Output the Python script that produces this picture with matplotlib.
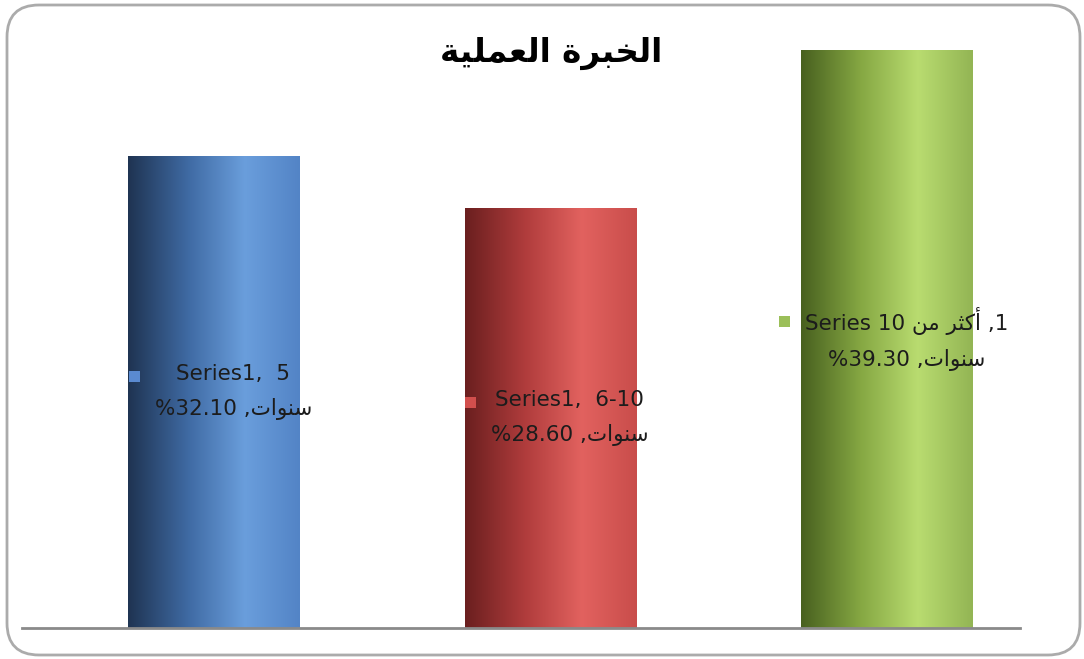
import numpy as np
import matplotlib
matplotlib.use('Agg')
import matplotlib.pyplot as plt
from matplotlib.patches import FancyBboxPatch, Rectangle
from matplotlib.colors import LinearSegmentedColormap

plt.rcParams['font.family'] = ['DejaVu Sans']

# matplotlib does no Arabic shaping, so the words are kept as
# presentation forms already in left-to-right display order
TITLE = '\ufe94\ufef4\ufee0\ufee4\ufecc\ufedf\ufe8d \ufe93\ufeae\ufe92\ufea8\ufedf\ufe8d'   # الخبرة العملية
SANAWAT = '\ufe95\ufe8d\ufeee\ufee8\ufeb3'                                               # سنوات
AKTHAR_MIN = '\ufee6\ufee3 \ufeae\ufe9c\ufedb\ufe83'                                     # أكثر من

values = [32.1, 28.6, 39.3]
first_lines = ['Series1,  5', 'Series1,  6-10', 'Series 10 ' + AKTHAR_MIN + ' ,1']
bar_colors = [
    ['#1f3452', '#3f6aa3', '#6a9edc', '#5384c6'],
    ['#6a1f1f', '#b03c3c', '#e2625f', '#c94d4b'],
    ['#48601f', '#86a843', '#b9dc70', '#93b554'],
]
key_colors = ['#5a8ad0', '#d24f4d', '#9bbf59']

W, H = 1084, 659
fig = plt.figure(figsize=(W / 100, H / 100), dpi=100)
fig.patch.set_facecolor('white')

# axes placed in pixels: baseline at y=628, plot area 22..1020
ax = fig.add_axes([22 / W, (H - 628) / H, (1020 - 22) / W, (628 - 30) / H])
x = np.arange(len(values))
bars = ax.bar(x, values, width=0.511, color='none', edgecolor='none', zorder=2)

grad = np.linspace(0, 1, 256).reshape(1, -1)
for b, cols in zip(bars, bar_colors):
    cmap = LinearSegmentedColormap.from_list(
        'cyl', list(zip([0.0, 0.35, 0.68, 1.0], cols)))
    x0, y0 = b.get_x(), b.get_y()
    im = ax.imshow(grad, cmap=cmap, aspect='auto', zorder=2,
                   extent=[x0, x0 + b.get_width(), y0, y0 + b.get_height()])
    im.set_clip_path(b)

ax.set_xlim(-0.571, 2.395)
ax.set_ylim(0, 40.68)
ax.set_xticks([])
ax.set_yticks([])
for side in ['top', 'right', 'left']:
    ax.spines[side].set_visible(False)
ax.spines['bottom'].set_color('#8a8a8a')
ax.spines['bottom'].set_linewidth(2)
ax.patch.set_alpha(0)

labels = []
for i, (v, l1) in enumerate(zip(values, first_lines)):
    t = ax.text(i + 0.057, v / 2, l1 + '\n' + '%{:.2f} ,'.format(v) + SANAWAT,
                ha='center', va='center', multialignment='center',
                fontsize=15.5, linespacing=1.8, color='#1c1c1c', zorder=4)
    labels.append(t)

fig.text(551 / W, (H - 53) / H, TITLE, ha='center', va='center',
         fontsize=23.5, fontweight='bold', color='black')

# rounded chart border
fig.add_artist(FancyBboxPatch((7, 4), 1073, 650,
                              boxstyle='round,pad=0,rounding_size=32',
                              transform=None, facecolor='none',
                              edgecolor='#ababab', linewidth=2))

# legend keys sit left of each label block, level with the first line
fig.canvas.draw()
renderer = fig.canvas.get_renderer()
for t, kc in zip(labels, key_colors):
    bb = t.get_window_extent(renderer)
    cy = bb.y1 - bb.height * 0.22
    fig.add_artist(Rectangle((bb.x0 - 26, cy - 5.5), 11, 11, transform=None,
                             facecolor=kc, edgecolor='none'))

fig.savefig('out.png', dpi=100)
